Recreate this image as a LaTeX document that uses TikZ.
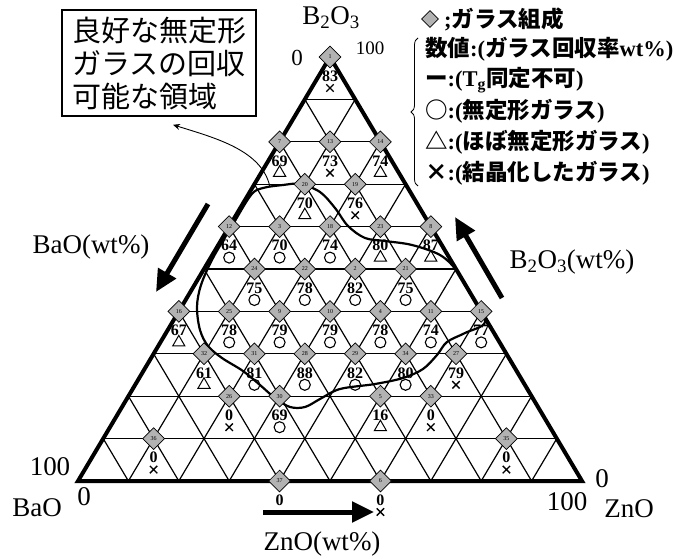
\documentclass[tikz,border=0pt]{standalone}
\usepackage{fontspec}
\setmainfont{Liberation Serif}
\newfontfamily\jp{Noto Sans CJK JP}
\usetikzlibrary{calc,shapes.geometric,shapes.misc,arrows.meta,decorations.pathreplacing}

\begin{document}
\begin{tikzpicture}[x=1pt,y=-1pt,
    grid/.style={line width=1.2pt},
    border/.style={line width=4pt,line join=miter},
    glass/.style={diamond,draw,fill=gray!60,line width=0.7pt,minimum width=22pt,minimum height=22pt,inner sep=0pt,font=\fontsize{6}{6}\selectfont},
    rate/.style={inner sep=0pt,font=\fontsize{16}{16}\selectfont\bfseries},
    amorph/.style={circle,draw,line width=1.1pt,minimum size=11pt,inner sep=0pt},
    partly/.style={regular polygon,regular polygon sides=3,draw,line width=1pt,minimum size=14pt,inner sep=0pt},
    cryst/.style={cross out,draw,line width=1.4pt,minimum size=6pt,inner sep=0pt},
    notg/.style={inner sep=0pt},
    region/.style={line width=2.2pt},
    flow/.style={line width=5pt,-{Triangle[length=22pt,width=20pt]}},
    axis/.style={inner sep=0pt,font=\fontsize{27}{27}\selectfont},
    legend/.style={anchor=west,inner sep=0pt,font=\fontsize{22.5}{22.5}\selectfont\bfseries}]
    \useasboundingbox (0,0) rectangle (683,559);
    % Points
    \coordinate (A) at (78,481);
    \coordinate (Z) at (582,481);
    \coordinate (B) at (330,57);
    \coordinate (rp) at (270,187);
    \coordinate (ba0) at (208,204);
    \coordinate (ba1) at (156,292);
    \coordinate (bo0) at (502,298);
    \coordinate (bo1) at (455,217);
    \coordinate (zn0) at (263,512);
    \coordinate (zn1) at (374,512);
    % Ways
    \foreach \i in {1,...,9} {
      \draw[grid] ($(A)!\i/10!(Z)$) -- ($(B)!\i/10!(Z)$);
      \draw[grid] ($(A)!\i/10!(B)$) -- ($(Z)!\i/10!(B)$);
      \draw[grid] ($(B)!\i/10!(A)$) -- ($(Z)!\i/10!(A)$);
    }
    \draw[region] plot[smooth cycle,tension=0.55] coordinates {
      (300,184) (283,185) (263,188) (251,195) (232,226) (213,258) (201,285)
      (197,307) (200,330) (208,346) (222,358) (243,371) (260,385) (275,398)
      (290,407) (305,407) (320,399) (340,389) (375,384) (403,378) (423,369)
      (437,355) (447,342) (465,333) (485,322) (472,297) (457,271) (440,255)
      (412,245) (385,241) (365,238) (348,226) (335,208) (320,192)};
    \draw[border] (A) -- (Z) -- (B) -- cycle;
    % Glasses
    \foreach \z/\b/\id/\val/\sym in {0/10/1/83/cryst,
        0/8/7/69/partly,1/8/13/73/cryst,2/8/14/74/partly,
        1/7/20/70/partly,2/7/19/76/cryst,
        0/6/12/64/amorph,1/6/3/70/amorph,2/6/18/74/amorph,3/6/23/80/partly,4/6/8/87/partly,
        1/5/24/75/amorph,2/5/22/78/amorph,3/5/2/82/amorph,4/5/21/75/amorph,
        0/4/16/67/partly,1/4/25/78/amorph,2/4/9/79/amorph,3/4/10/79/amorph,
        4/4/4/78/amorph,5/4/11/74/amorph,6/4/15/77/amorph,
        1/3/32/61/partly,2/3/31/81/amorph,3/3/28/88/amorph,4/3/29/82/amorph,
        5/3/34/80/amorph,6/3/27/79/cryst,
        2/2/26/0/cryst,3/2/30/69/amorph,5/2/5/16/partly,6/2/33/0/cryst,
        1/1/36/0/cryst,8/1/35/0/cryst,
        4/0/37/0/notg,6/0/6/0/cryst} {
      \node[glass] (g\id) at ({78+50.4*\z+25.2*\b},{481-42.4*\b}) {\id};
      \node[rate] (v\id) at ([yshift=-19pt]g\id.center) {\val};
      \node[\sym] (s\id) at ([yshift=-31pt]g\id.center) {};
    }
    % Arrows
    \draw[flow] (ba0) -- (ba1);
    \draw[flow] (bo0) -- (bo1);
    \draw[flow] (zn0) -- (zn1);
    % Labels
    \node[axis] (tB) at (331,18) {B\textsubscript{2}O\textsubscript{3}};
    \node[inner sep=0pt,font=\fontsize{23}{23}\selectfont] (b0) at (297,58) {0};
    \node[inner sep=0pt,font=\fontsize{19}{19}\selectfont] (b100) at (370,48) {100};
    \node[axis] (tBa) at (91,247) {BaO(wt\%)};
    \node[axis] (tBo) at (572,262) {B\textsubscript{2}O\textsubscript{3}(wt\%)};
    \node[axis] (a100) at (50,467) {100};
    \node[axis] (a0) at (84,497) {0};
    \node[axis] (tA) at (37,508) {BaO};
    \node[axis] (z0) at (602,479) {0};
    \node[axis] (z100) at (567,502) {100};
    \node[axis] (tZ) at (629,509) {ZnO};
    \node[axis] (tZn) at (322,544) {ZnO(wt\%)};
    % Note
    \node[draw,line width=1.6pt,minimum width=194pt,minimum height=106pt,align=left,
      font=\jp\fontsize{29}{33}\selectfont] (note) at (159,63) {良好な無定形\\ガラスの回収\\可能な領域};
    \draw[line width=0.9pt,-{Stealth[length=7pt,width=6pt]}] (rp)
      .. controls (262,150) and (215,138) .. ($(note.south)+(14,8)$);
    % Legend
    \node[glass,minimum width=17pt,minimum height=17pt] (key) at (430,19) {};
    \node[legend] (l0) at (444,19) {;{\jp ガラス組成}};
    \node[legend] (l1) at (425,49) {{\jp 数値}:({\jp ガラス回収率}wt\%)};
    \node[legend] (l2) at (425,80) {{\jp ー}:(T\textsubscript{g}{\jp 同定不可})};
    \node[legend] (l3) at (425,111) {{\jp ○}:({\jp 無定形ガラス})};
    \node[legend] (l4) at (425,142) {{\jp △}:({\jp ほぼ無定形ガラス})};
    \node[legend] (l5) at (425,173) {{\jp ×}:({\jp 結晶化したガラス})};
    \draw[decorate,decoration={brace,amplitude=7pt},line width=0.8pt] (418,186) -- (418,38);
  \end{tikzpicture}
\end{document}
